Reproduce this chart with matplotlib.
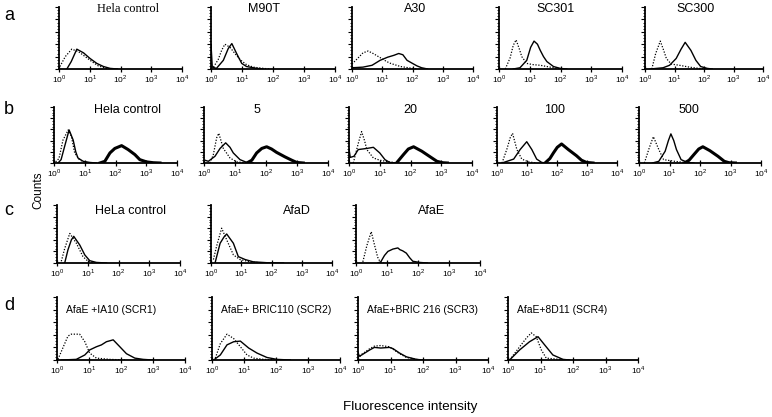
import numpy as np
import matplotlib.pyplot as plt
from matplotlib.ticker import LogLocator, NullFormatter, MultipleLocator

plt.rcParams['font.family'] = ['Liberation Sans', 'DejaVu Sans']
plt.rcParams['mathtext.fontset'] = 'custom'
plt.rcParams['mathtext.rm'] = 'Liberation Sans'

# ---- row a ----
a_titles = ["Hela control", "M90T", "A30", "SC301", "SC300"]
a1_dot_x = [1.07, 1.6, 2.6, 4.3, 7.1, 11.7, 19, 35, 60]
a1_dot_y = [4, 20, 32, 28, 20, 12, 5, 1, 0]
a1_sol_x = [1.8, 2.5, 3.8, 6.3, 10.2, 17, 28, 46, 80]
a1_sol_y = [0, 12, 32, 26, 17, 9, 4, 1, 0]
a2_dot_x = [1.2, 1.7, 2.2, 2.8, 4.1, 5.9, 8.7, 14, 23, 49, 80]
a2_dot_y = [3, 15, 30, 40, 35, 25, 15, 7, 3, 1, 0]
a2_sol_x = [1.0, 1.0, 1.1, 1.5, 2.5, 3.6, 4.7, 6.7, 9.8, 14, 30, 50]
a2_sol_y = [0, 40, 3, 1, 14, 33, 41, 25, 9, 4, 1, 0]
a3_dot_x = [1.0, 1.6, 2.3, 3.4, 5.0, 8.1, 14, 19, 40, 100, 150]
a3_dot_y = [8, 18, 26, 29, 25, 19, 12, 9, 4, 1, 0]
a3_sol_x = [1.0, 2.3, 4.6, 8.5, 15, 24, 35, 48, 66, 100, 141, 200, 316]
a3_sol_y = [2, 3, 6, 14, 19, 22, 25, 23, 14, 9, 5, 2, 0]
a4_dot_x = [1.6, 2.3, 2.9, 3.6, 4.6, 5.5, 8, 13, 22, 36, 59, 110]
a4_dot_y = [0, 18, 38, 47, 32, 20, 9, 7, 6, 4, 2, 0]
a4_sol_x = [2.9, 4.8, 8, 10.7, 13.8, 17.8, 22, 28, 36, 59, 98, 160]
a4_sol_y = [0, 2, 14, 35, 45, 40, 30, 20, 12, 4, 1, 0]
a5_dot_x = [1.7, 2.3, 3.3, 4.3, 5.3, 7.7, 14.7, 32, 68, 147]
a5_dot_y = [0, 25, 45, 30, 17, 8, 6, 3, 1, 0]
a5_sol_x = [1.5, 4.1, 6.8, 11.4, 16.7, 23, 36, 53, 77, 129, 190]
a5_sol_y = [0, 2, 6, 17, 32, 43, 30, 14, 4, 1, 0]

# ---- row b ----
b_titles = ["Hela control", "5", "20", "100", "500"]
b1_dot_x = [1.13, 1.45, 1.96, 2.9, 3.7, 4.7, 6.9, 11, 19]
b1_dot_y = [2, 8, 41, 59, 47, 18, 5, 1, 0]
b1_sol_x = [1.35, 1.7, 2.2, 3.1, 4.2, 5.1, 6.0, 8.9, 14.5, 24]
b1_sol_y = [0, 6, 29, 59, 41, 20, 9, 3, 1, 0]
b1_thk_x = [31, 45, 66, 95, 158, 257, 427, 617, 1020, 1700, 2800]
b1_thk_y = [0, 3, 18, 26, 31, 24, 15, 6, 2, 0.5, 0]
b2_dot_x = [1.56, 2.0, 2.56, 3.0, 4.2, 6.9, 11.3, 24]
b2_dot_y = [0, 15, 45, 53, 26, 9, 2, 0]
b2_sol_x = [1.07, 1.38, 2.26, 3.3, 5.0, 6.9, 8.8, 14.5, 24, 39]
b2_sol_y = [5, 3, 12, 26, 36, 28, 18, 6, 1, 0]
b2_thk_x = [24, 35, 50, 73, 105, 151, 219, 407, 676, 977, 1600]
b2_thk_y = [0, 5, 18, 26, 29, 25, 19, 11, 5, 1, 0]
b3_dot_x = [1.38, 2.0, 2.57, 3.2, 3.8, 6.2, 10, 20, 40]
b3_dot_y = [0, 35, 56, 40, 24, 9, 5, 2, 0]
b3_sol_x = [1.0, 1.0, 1.1, 1.45, 2.0, 3.8, 6.2, 10, 14.8, 21, 35]
b3_sol_y = [0, 25, 10, 12, 24, 26, 28, 18, 6, 1, 0]
b3_thk_x = [35, 59, 85, 126, 234, 437, 724, 1120, 1585]
b3_thk_y = [0, 15, 25, 29, 21, 11, 3, 0.5, 0]
b4_dot_x = [1.47, 2.14, 2.75, 3.3, 4.6, 6.7, 11.2, 21]
b4_dot_y = [0, 25, 45, 53, 24, 7, 2, 0]
b4_sol_x = [1.47, 3.6, 5.9, 9.8, 14.5, 21, 31, 45]
b4_sol_y = [0, 7, 24, 38, 24, 7, 1, 0]
b4_thk_x = [40, 58, 76, 102, 142, 239, 446, 655, 960, 1590]
b4_thk_y = [0, 8, 18, 28, 34, 24, 13, 5, 1, 0]
b5_dot_x = [1.5, 2.2, 2.96, 4.46, 6.4, 14.9, 30.8, 63]
b5_dot_y = [0, 28, 47, 24, 6, 3, 1, 0]
b5_sol_x = [2.75, 4.46, 7.2, 9.2, 11.1, 13.8, 16.9, 24, 39, 63]
b5_sol_y = [0, 3, 21, 40, 52, 40, 24, 6, 1, 0]
b5_thk_x = [31, 44, 63, 91, 124, 211, 388, 626, 896, 1450]
b5_thk_y = [0, 5, 15, 25, 29, 22, 12, 3, 0.5, 0]

# ---- row c ----
c_titles = ["HeLa control", "AfaD", "AfaE"]
c1_dot_x = [1.38, 1.78, 2.6, 4.27, 7.0, 10.2, 17]
c1_dot_y = [3, 25, 51, 34, 11, 3, 0]
c1_sol_x = [1.78, 2.28, 2.94, 3.5, 5.5, 8, 11.6, 19, 41]
c1_sol_y = [0, 23, 40, 46, 31, 14, 4, 1, 0]
c2_dot_x = [1.2, 1.55, 2.25, 3.3, 5.5, 9.1, 19.6, 54]
c2_dot_y = [6, 30, 60, 40, 14, 6, 2, 0]
c2_sol_x = [1.36, 2.0, 2.7, 3.3, 5.5, 8, 13.4, 25, 71, 250]
c2_sol_y = [0, 34, 45, 50, 34, 11, 6, 2, 0.5, 0]
c3_dot_x = [1.66, 2.24, 3.1, 4.0, 5.0, 6.0, 8]
c3_dot_y = [2, 30, 54, 30, 10, 2, 0]
c3_sol_x = [5, 6.3, 8.3, 10.7, 15.5, 22.4, 26, 32, 42, 54, 68, 112, 200]
c3_sol_y = [0, 2, 13, 20, 24, 26, 23, 21, 17, 9, 3, 1, 0]

# ---- row d ----
d_titles = ["AfaE +IA10 (SCR1)", "AfaE+ BRIC110 (SCR2)",
            "AfaE+BRIC 216 (SCR3)", "AfaE+8D11 (SCR4)"]
d1_dot_x = [1.07, 1.74, 2.2, 2.8, 5.1, 7.4, 10.5, 17, 45, 148]
d1_dot_y = [1, 26, 38, 41, 41, 29, 11, 3, 1, 0]
d1_sol_x = [1.37, 4.0, 7.4, 10.5, 17, 24.5, 35, 57, 92, 148, 270, 490, 1000]
d1_sol_y = [0, 1, 8, 16, 21, 24, 29, 32, 21, 10, 3, 1, 0]
d2_dot_x = [1.27, 1.82, 2.94, 4.76, 7.7, 12.4, 20, 41, 107]
d2_dot_y = [3, 26, 41, 34, 21, 8, 3, 1, 0]
d2_sol_x = [1.13, 1.82, 2.94, 4.76, 7.7, 14, 25.5, 52, 107, 280]
d2_sol_y = [0, 8, 24, 29, 30, 19, 11, 4, 1, 0]
d3_dot_x = [1.0, 1.3, 2.3, 3.2, 5, 9.3, 12, 19, 31, 63, 100]
d3_dot_y = [2, 9, 18, 22, 23, 21, 17, 10, 4, 1, 0]
d3_sol_x = [1.0, 1.0, 1.1, 1.3, 2.3, 3.2, 5, 9.3, 12, 19, 31, 63, 100]
d3_sol_y = [0, 12, 6, 8, 16, 20, 19, 20, 18, 11, 5, 1, 0]
d4_dot_x = [1.12, 2.28, 3.7, 5.2, 7.4, 10.6, 15, 39, 79]
d4_dot_y = [0, 21, 35, 43, 37, 16, 3, 1, 0]
d4_sol_x = [1.12, 2.28, 4.6, 8.4, 13.4, 24, 49, 79]
d4_sol_y = [0, 16, 29, 37, 24, 8, 1, 0]

rows = [
    ("a", a_titles, [(a1_dot_x, a1_dot_y, a1_sol_x, a1_sol_y, None, None),
                     (a2_dot_x, a2_dot_y, a2_sol_x, a2_sol_y, None, None),
                     (a3_dot_x, a3_dot_y, a3_sol_x, a3_sol_y, None, None),
                     (a4_dot_x, a4_dot_y, a4_sol_x, a4_sol_y, None, None),
                     (a5_dot_x, a5_dot_y, a5_sol_x, a5_sol_y, None, None)]),
    ("b", b_titles, [(b1_dot_x, b1_dot_y, b1_sol_x, b1_sol_y, b1_thk_x, b1_thk_y),
                     (b2_dot_x, b2_dot_y, b2_sol_x, b2_sol_y, b2_thk_x, b2_thk_y),
                     (b3_dot_x, b3_dot_y, b3_sol_x, b3_sol_y, b3_thk_x, b3_thk_y),
                     (b4_dot_x, b4_dot_y, b4_sol_x, b4_sol_y, b4_thk_x, b4_thk_y),
                     (b5_dot_x, b5_dot_y, b5_sol_x, b5_sol_y, b5_thk_x, b5_thk_y)]),
    ("c", c_titles, [(c1_dot_x, c1_dot_y, c1_sol_x, c1_sol_y, None, None),
                     (c2_dot_x, c2_dot_y, c2_sol_x, c2_sol_y, None, None),
                     (c3_dot_x, c3_dot_y, c3_sol_x, c3_sol_y, None, None)]),
    ("d", d_titles, [(d1_dot_x, d1_dot_y, d1_sol_x, d1_sol_y, None, None),
                     (d2_dot_x, d2_dot_y, d2_sol_x, d2_sol_y, None, None),
                     (d3_dot_x, d3_dot_y, d3_sol_x, d3_sol_y, None, None),
                     (d4_dot_x, d4_dot_y, d4_sol_x, d4_sol_y, None, None)]),
]

# layout in pixels (772 x 417)
W, H = 772, 417
row_tb = [(7, 69), (107, 163), (205, 263), (297, 360)]
row_lr = [
    [(59, 182), (211, 335), (352, 473), (499, 622), (645, 763)],
    [(54, 177), (204, 328), (349, 472), (497, 617), (639, 761)],
    [(57, 180), (211, 332), (356, 480)],
    [(57, 185), (212, 340), (358, 488), (508, 638)],
]
title_x = [[0.56, 0.43, 0.52, 0.46, 0.43],
           [0.60, 0.43, 0.50, 0.48, 0.41],
           [0.60, 0.71, 0.61]]
title_y = [0.96, 0.94, 0.90, 0.79]
letter_y = [15, 110, 211, 305]

fig = plt.figure(figsize=(W / 100, H / 100), dpi=100)

for r, (letter, titles, panels) in enumerate(rows):
    top, bot = row_tb[r]
    fig.text(4 / W, 1 - letter_y[r] / H, letter, fontsize=13, va='center')
    for c, (dx, dy, sx, sy, tx, ty) in enumerate(panels):
        l, rr = row_lr[r][c]
        ax = fig.add_axes([l / W, 1 - bot / H, (rr - l) / W, (bot - top) / H])
        ax.plot(dx, dy, color='black', lw=0.9, ls=(0, (1, 1.3)))
        ax.plot(sx, sy, color='black', lw=1.0)
        if tx is not None:
            ax.plot(tx, ty, color='black', lw=2.2)
        ax.set_xscale('log')
        ax.set_xlim(1, 1e4)
        ax.set_ylim(0, 100)
        for s in ['top', 'right']:
            ax.spines[s].set_visible(False)
        for s in ['left', 'bottom']:
            ax.spines[s].set_linewidth(1.3)
        ax.set_xticks([1, 10, 100, 1000, 10000])
        ax.set_xticklabels([r'$10^{%d}$' % k for k in range(5)], fontsize=6)
        ax.xaxis.set_minor_locator(LogLocator(base=10, subs=np.arange(2, 10)))
        ax.xaxis.set_minor_formatter(NullFormatter())
        ax.tick_params(axis='x', which='major', direction='inout', length=4,
                       width=0.9, pad=1)
        ax.tick_params(axis='x', which='minor', direction='in', length=2,
                       width=0.7)
        ax.yaxis.set_major_locator(MultipleLocator(20))
        ax.yaxis.set_minor_locator(MultipleLocator(5))
        ax.tick_params(axis='y', which='major', direction='out', length=3,
                       width=0.8, labelleft=False)
        ax.tick_params(axis='y', which='minor', direction='out', length=1.5,
                       width=0.6)
        if r < 3:
            fam = ['Liberation Serif'] if (r == 0 and c == 0) else None
            ax.text(title_x[r][c], title_y[r], titles[c], transform=ax.transAxes,
                    ha='center', va='center', fontsize=9, family=fam)
        else:
            ax.text(0.07, title_y[r], titles[c], transform=ax.transAxes,
                    ha='left', va='center', fontsize=7.5)

fig.text(38 / W, 1 - 190 / H, "Counts", rotation=90, fontsize=8.5,
         ha='center', va='center')
fig.text(410 / W, 1 - 407 / H, "Fluorescence intensity", fontsize=9.7,
         ha='center', va='center')

fig.savefig("out.png", dpi=100)
